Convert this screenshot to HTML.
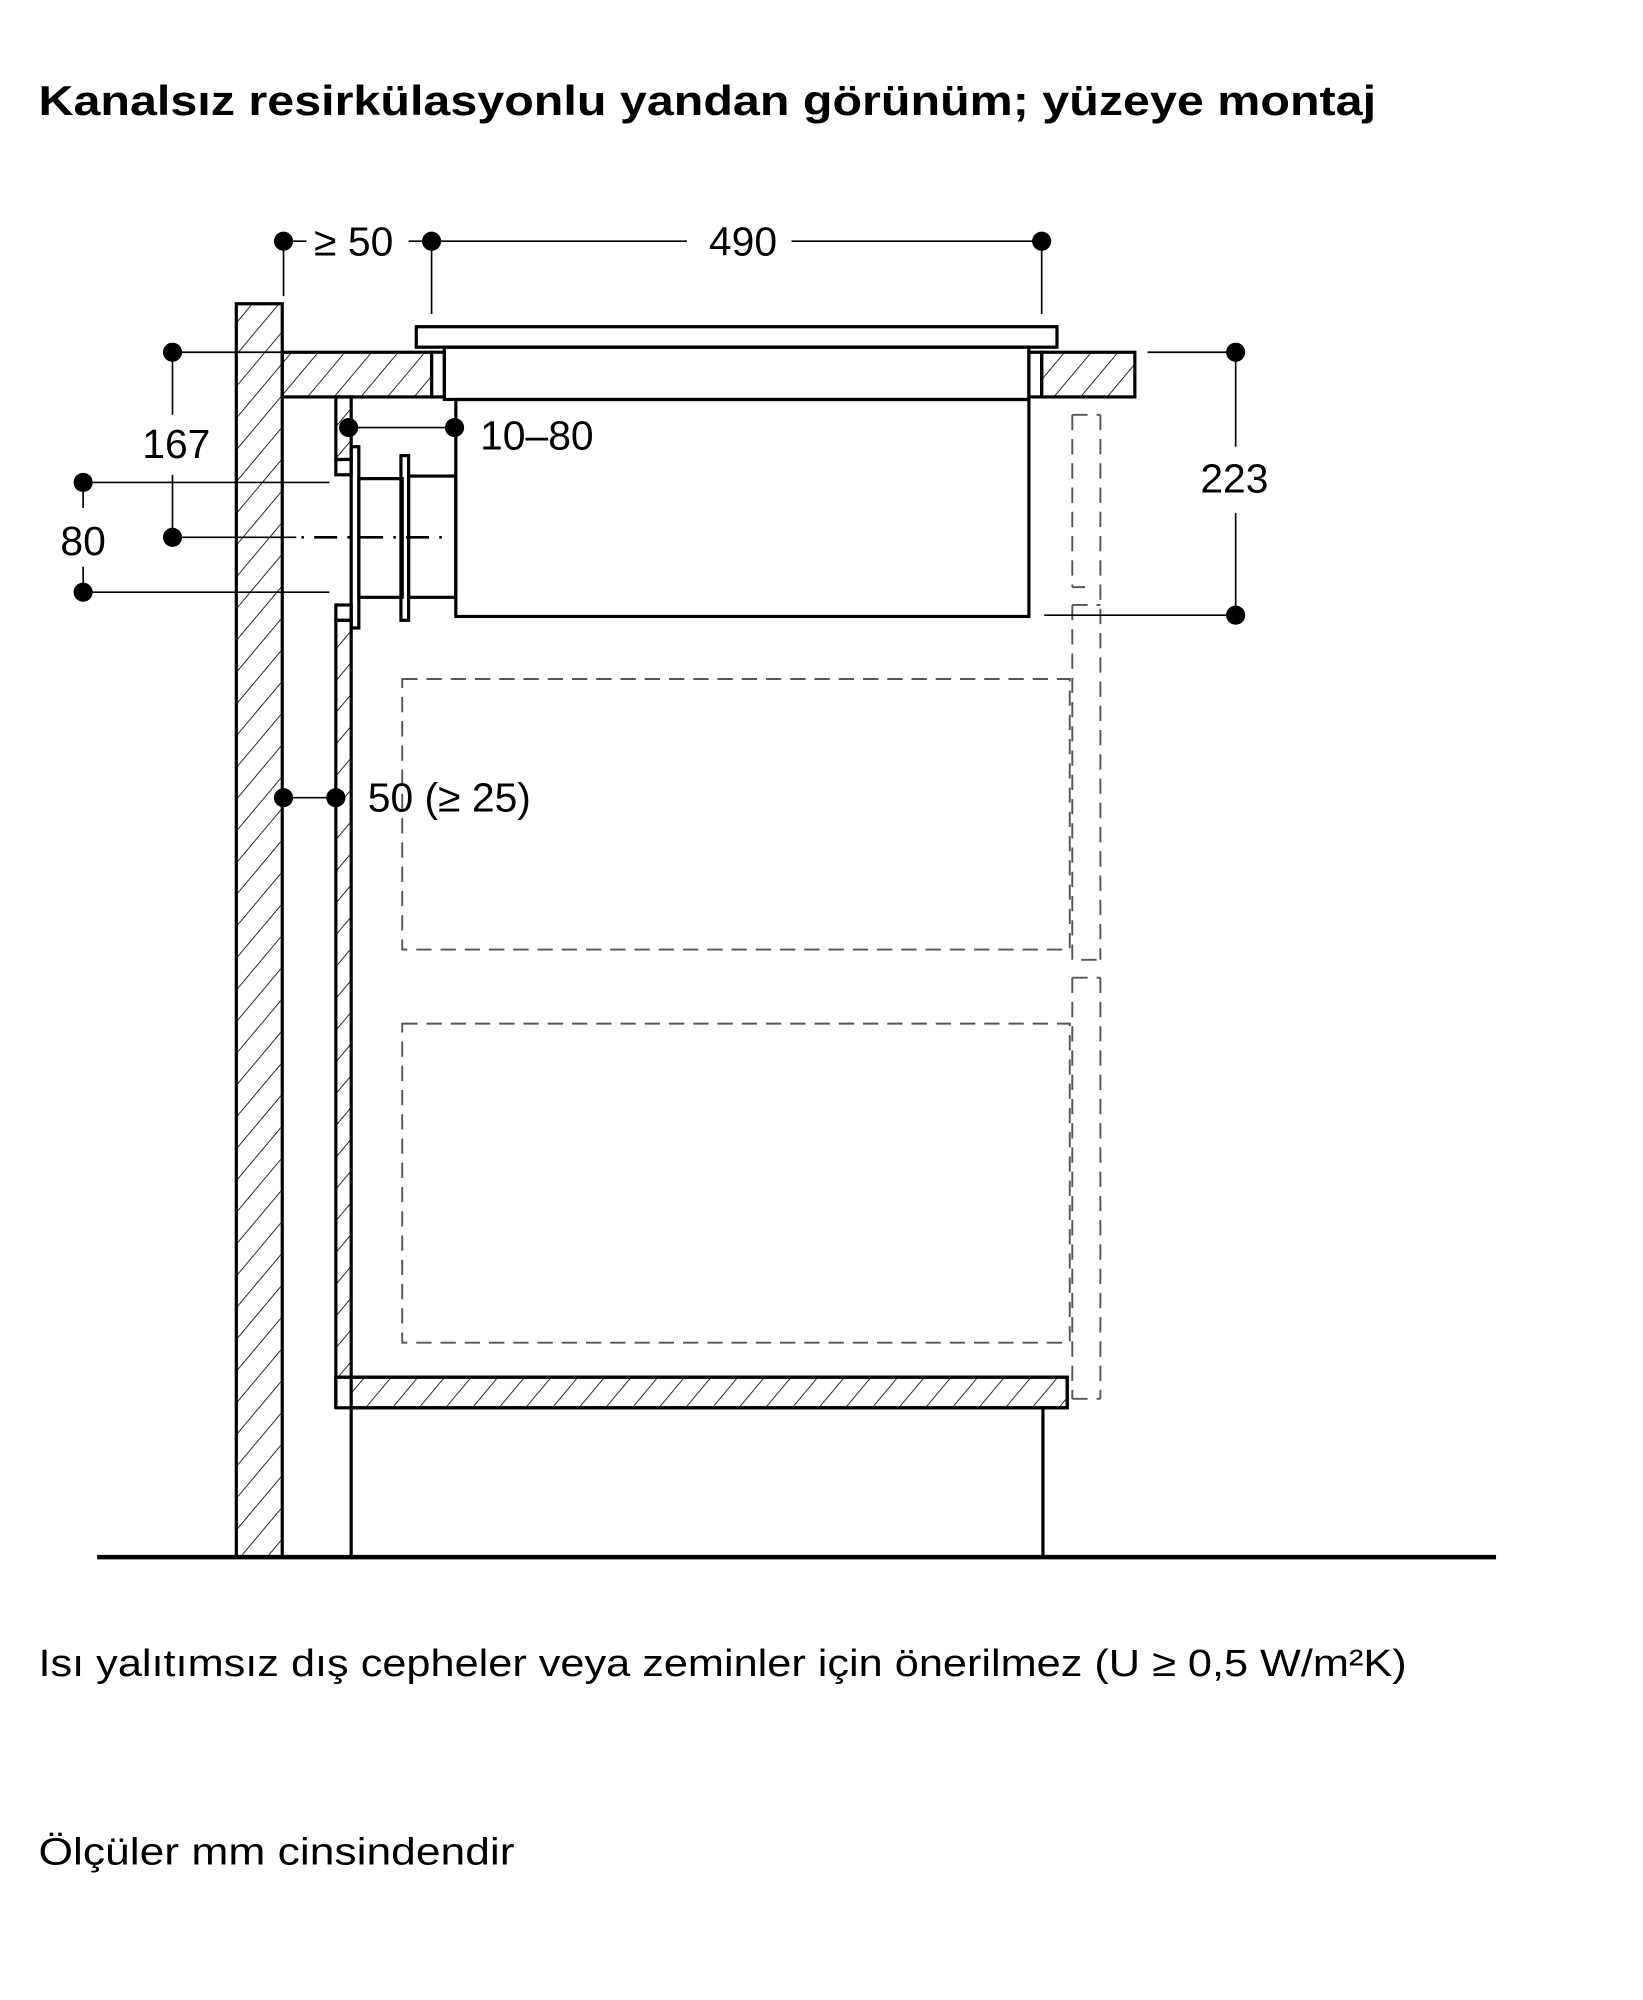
<!DOCTYPE html>
<html><head><meta charset="utf-8"><style>
html,body{margin:0;padding:0;background:#fff;}
svg{display:block;}
text{font-family:"Liberation Sans",sans-serif;fill:#000;}
</style></head><body>
<svg width="1643" height="2000" viewBox="0 0 1287 1567" xmlns="http://www.w3.org/2000/svg">
<defs>
<pattern id="h" patternUnits="userSpaceOnUse" width="16" height="16" patternTransform="rotate(40)">
<line x1="0" y1="0" x2="0" y2="16" stroke="#000" stroke-width="1.3"/>
</pattern>
</defs>
<rect width="1287" height="1567" fill="#fff"/>
<text x="30" y="90" font-size="33" font-weight="bold" textLength="1048" lengthAdjust="spacingAndGlyphs">Kanalsız resirkülasyonlu yandan görünüm; yüzeye montaj</text>

<g stroke="#000" fill="none" stroke-width="2.5">
<rect x="185" y="238" width="36" height="982" fill="url(#h)"/>
<rect x="221" y="276" width="117" height="35" fill="url(#h)"/>
<rect x="338" y="276" width="10" height="35"/>
<rect x="326" y="256" width="502" height="16"/>
<rect x="348" y="272" width="458" height="41"/>
<rect x="357" y="313" width="449" height="170"/>
<rect x="806" y="276" width="10" height="35"/>
<rect x="816" y="276" width="73" height="35" fill="url(#h)"/>
<rect x="263" y="311" width="12" height="49" fill="url(#h)"/>
<rect x="263" y="360" width="12" height="12"/>
<rect x="263" y="474" width="12" height="12"/>
<rect x="263" y="486" width="12" height="593" fill="url(#h)"/>
<line x1="263" y1="1079" x2="263" y2="1103"/>
<rect x="275" y="350" width="6" height="142"/>
<rect x="281" y="375" width="34" height="93"/>
<rect x="314" y="357" width="6" height="129"/>
<rect x="320" y="373" width="37" height="95"/>
<rect x="263" y="1079" width="573" height="24"/>
<rect x="275" y="1079" width="561" height="24" fill="url(#h)"/>
<line x1="275" y1="1103" x2="275" y2="1220"/>
<line x1="817" y1="1103" x2="817" y2="1220"/>
</g>
<line x1="76" y1="1220" x2="1172" y2="1220" stroke="#000" stroke-width="3.5"/>

<g stroke="#555" fill="none" stroke-width="1.5" stroke-dasharray="12,7">
<rect x="315" y="532" width="523" height="212"/>
<rect x="315" y="802" width="523" height="250"/>
<path d="M840 325 H862 M840 325 V460 M862 325 V752 M840 460 H850 M840 474 H862 M840 474 V752 H862 M840 766 H862 M840 766 V1096 M862 766 V1096 M840 1096 H862"/>
</g>

<g stroke="#000" stroke-width="1.3" fill="none">
<line x1="222" y1="189" x2="240" y2="189"/>
<line x1="320" y1="189" x2="338" y2="189"/>
<line x1="338" y1="189" x2="538" y2="189"/>
<line x1="620" y1="189" x2="816" y2="189"/>
<line x1="222" y1="189" x2="222" y2="232"/>
<line x1="338" y1="189" x2="338" y2="246"/>
<line x1="816" y1="189" x2="816" y2="246"/>
<line x1="135" y1="276" x2="238" y2="276"/>
<line x1="135" y1="276" x2="135" y2="325"/>
<line x1="135" y1="372" x2="135" y2="421"/>
<line x1="135" y1="421" x2="232" y2="421"/>
<line x1="65" y1="378" x2="258" y2="378"/>
<line x1="65" y1="464" x2="258" y2="464"/>
<line x1="65" y1="378" x2="65" y2="398"/>
<line x1="65" y1="444" x2="65" y2="464"/>
<line x1="273" y1="335" x2="356" y2="335"/>
<line x1="899" y1="276" x2="968" y2="276"/>
<line x1="818" y1="482" x2="968" y2="482"/>
<line x1="968" y1="276" x2="968" y2="350"/>
<line x1="968" y1="402" x2="968" y2="482"/>
<line x1="222" y1="625" x2="263" y2="625"/>
</g>
<line x1="236" y1="421" x2="352" y2="421" stroke="#000" stroke-width="2" stroke-dasharray="2,8,18,8"/>

<g fill="#000">
<circle cx="222" cy="189" r="7.5"/><circle cx="338" cy="189" r="7.5"/><circle cx="816" cy="189" r="7.5"/>
<circle cx="135" cy="276" r="7.5"/><circle cx="135" cy="421" r="7.5"/>
<circle cx="65" cy="378" r="7.5"/><circle cx="65" cy="464" r="7.5"/>
<circle cx="273" cy="335" r="7.5"/><circle cx="356" cy="335" r="7.5"/>
<circle cx="968" cy="276" r="7.5"/><circle cx="968" cy="482" r="7.5"/>
<circle cx="222" cy="625" r="7.5"/><circle cx="263" cy="625" r="7.5"/>
</g>

<g font-size="32">
<text x="246" y="200">≥ 50</text>
<text x="582" y="200" text-anchor="middle">490</text>
<text x="138" y="359" text-anchor="middle">167</text>
<text x="65" y="435" text-anchor="middle">80</text>
<text x="376" y="352">10–80</text>
<text x="967" y="386" text-anchor="middle">223</text>
<text x="288" y="636">50 (≥ 25)</text>
</g>

<text x="30" y="1313" font-size="30" textLength="1072" lengthAdjust="spacingAndGlyphs">Isı yalıtımsız dış cepheler veya zeminler için önerilmez (U ≥ 0,5 W/m²K)</text>
<text x="30" y="1461" font-size="30" textLength="373" lengthAdjust="spacingAndGlyphs">Ölçüler mm cinsindendir</text>
</svg>
</body></html>
